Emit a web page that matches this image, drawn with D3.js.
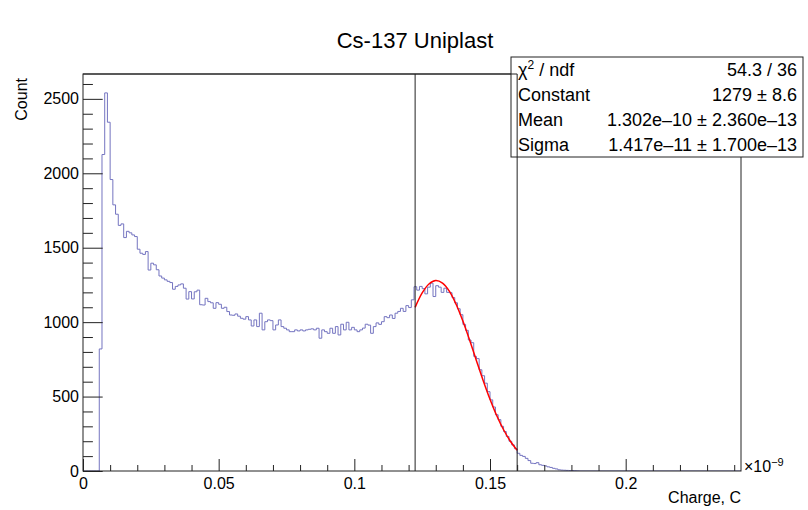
<!DOCTYPE html>
<html>
<head>
<meta charset="utf-8">
<script src="https://cdn.jsdelivr.net/npm/d3@7"></script>
<style>
    body { margin: 0; background: #fff; }
    svg text { font-family: "Liberation Sans", Arial, Helvetica, sans-serif; fill: #000; }
</style>
</head>
<body>
<div id="chart"></div>
<script>
// Histogram contents, bins of 0.001 (x1e-9 C) starting at 0
const binLow = 0.0;
const binWidth = 0.001;
const counts = [
    0, 0, 0, 0, 0, 0, 820, 2126, 2540, 2343,
    1958, 1788, 1725, 1650, 1660, 1568, 1610, 1600, 1586, 1575,
    1490, 1463, 1455, 1474, 1350, 1396, 1385, 1352, 1310, 1296,
    1284, 1274, 1266, 1221, 1240, 1250, 1257, 1228, 1155, 1205,
    1156, 1204, 1215, 1117, 1115, 1160, 1138, 1130, 1093, 1131,
    1120, 1093, 1100, 1071, 1048, 1046, 1055, 1040, 1026, 1020,
    1037, 1015, 974, 1015, 970, 1060, 948, 1003, 1015, 1010,
    948, 981, 1015, 970, 959, 948, 936, 936, 948, 941,
    948, 941, 948, 952, 955, 948, 959, 892, 948, 936,
    925, 959, 925, 970, 914, 986, 948, 999, 948, 965,
    948, 936, 948, 960, 986, 980, 925, 970, 995, 985,
    1003, 1037, 1030, 1048, 1025, 1060, 1072, 1093, 1072, 1111,
    1098, 1150, 1238, 1215, 1240, 1225, 1190, 1235, 1262, 1172,
    1245, 1235, 1200, 1228, 1200, 1198, 1165, 1130, 1090, 1050,
    985, 945, 880, 862, 770, 755, 680, 640, 590, 533,
    478, 430, 378, 345, 300, 265, 232, 200, 175, 150,
    119, 105, 98, 85, 70, 52, 50, 56, 42, 38,
    34, 28, 24, 18, 14, 8, 6, 5, 4, 3,
    3, 2, 1
];

// Fitted gaussian
const fitX = [0.1224, 0.125, 0.1275, 0.130, 0.1325, 0.135, 0.1375, 0.140,
              0.1425, 0.145, 0.1475, 0.150, 0.1525, 0.155, 0.1575, 0.160];
const fitY = [1099, 1196, 1256, 1279, 1262, 1208, 1120, 1007,
              878, 741, 607, 482, 371, 277, 200, 140];

// Vertical marker lines (fit range)
const cutLines = [0.1224, 0.160];

const xMajor = [0, 0.05, 0.1, 0.15, 0.2];
const xMinor = [0.01, 0.02, 0.03, 0.04, 0.06, 0.07, 0.08, 0.09, 0.11, 0.12, 0.13, 0.14,
                0.16, 0.17, 0.18, 0.19, 0.21, 0.22, 0.23, 0.24];
const yMajor = [0, 500, 1000, 1500, 2000, 2500];
const yMinor = [100, 200, 300, 400, 600, 700, 800, 900, 1100, 1200, 1300, 1400,
                1600, 1700, 1800, 1900, 2100, 2200, 2300, 2400, 2600];

const statNames = ["χ2 / ndf", "Constant", "Mean", "Sigma"];
const statValues = ["54.3 / 36", "1279 ± 8.6", "1.302e–10 ± 2.360e–13", "1.417e–11 ± 1.700e–13"];

class HistChart {
    constructor(parentElement) {
        this.parentElement = parentElement;
        this.initVis();
    }

    initVis() {
        let vis = this;

        vis.W = 808;
        vis.H = 510;
        vis.frame = {left: 83, right: 741, top: 74, bottom: 471};

        vis.svg = d3.select("#" + vis.parentElement).append("svg")
            .attr("width", vis.W)
            .attr("height", vis.H);

        vis.svg.append("rect")
            .attr("width", vis.W)
            .attr("height", vis.H)
            .attr("fill", "#fff");

        vis.x = d3.scaleLinear()
            .domain([0, 0.2425])
            .range([vis.frame.left, vis.frame.right]);

        vis.y = d3.scaleLinear()
            .domain([0, 2667])
            .range([vis.frame.bottom, vis.frame.top]);

        vis.updateVis();
    }

    updateVis() {
        let vis = this;
        let f = vis.frame;

        // Title
        vis.svg.append("text")
            .attr("x", 415)
            .attr("y", 48)
            .attr("text-anchor", "middle")
            .style("font-size", "22px")
            .text("Cs-137 Uniplast");

        // Clip to frame
        vis.svg.append("clipPath")
            .attr("id", "frame-clip")
            .append("rect")
            .attr("x", f.left)
            .attr("y", f.top)
            .attr("width", f.right - f.left)
            .attr("height", f.bottom - f.top);

        // Histogram as a step line
        let pts = [[0, 0]];
        counts.forEach((c, i) => pts.push([binLow + i * binWidth, c]));
        pts.push([binLow + counts.length * binWidth, 0]);
        pts.push([0.2425, 0]);

        let histLine = d3.line()
            .x(d => vis.x(d[0]))
            .y(d => vis.y(d[1]))
            .curve(d3.curveStepAfter);

        vis.svg.append("path")
            .datum(pts)
            .attr("clip-path", "url(#frame-clip)")
            .attr("fill", "none")
            .attr("stroke", "#7474c0")
            .attr("stroke-width", 1)
            .attr("d", histLine);

        // Fit curve
        let fitLine = d3.line()
            .x((d, i) => vis.x(fitX[i]))
            .y(d => vis.y(d))
            .curve(d3.curveCatmullRom);

        vis.svg.append("path")
            .datum(fitY)
            .attr("fill", "none")
            .attr("stroke", "#ff0000")
            .attr("stroke-width", 1.5)
            .attr("d", fitLine);

        // Axes
        let xAxisMajor = d3.axisBottom(vis.x)
            .tickValues(xMajor)
            .tickFormat(d3.format("~g"))
            .tickSize(-12)
            .tickPadding(7);
        let xAxisMinor = d3.axisBottom(vis.x)
            .tickValues(xMinor)
            .tickFormat("")
            .tickSize(-6);
        let yAxisMajor = d3.axisLeft(vis.y)
            .tickValues(yMajor)
            .tickFormat(d3.format("d"))
            .tickSize(-19.7)
            .tickPadding(4);
        let yAxisMinor = d3.axisLeft(vis.y)
            .tickValues(yMinor)
            .tickFormat("")
            .tickSize(-9.9);

        [xAxisMajor, xAxisMinor].forEach(ax => {
            vis.svg.append("g")
                .attr("class", "x axis")
                .attr("transform", `translate(0,${f.bottom})`)
                .call(ax)
                .call(g => g.select(".domain").remove())
                .selectAll("text")
                .style("font-size", "16px")
                .style("font-family", "'Liberation Sans', Arial, sans-serif");
        });
        [yAxisMajor, yAxisMinor].forEach(ax => {
            vis.svg.append("g")
                .attr("class", "y axis")
                .attr("transform", `translate(${f.left},0)`)
                .call(ax)
                .call(g => g.select(".domain").remove())
                .selectAll("text")
                .style("font-size", "16px")
                .style("font-family", "'Liberation Sans', Arial, sans-serif");
        });
        vis.svg.selectAll(".axis line").attr("stroke", "#222");

        // Frame
        vis.svg.append("rect")
            .attr("x", f.left)
            .attr("y", f.top)
            .attr("width", f.right - f.left)
            .attr("height", f.bottom - f.top)
            .attr("fill", "none")
            .attr("stroke", "#222")
            .attr("stroke-width", 1);

        // x10^-9 exponent
        let expo = vis.svg.append("text")
            .attr("x", 744)
            .attr("y", 472)
            .style("font-size", "16px");
        expo.append("tspan").text("×10");
        expo.append("tspan")
            .attr("dy", -6)
            .style("font-size", "11px")
            .text("−9");

        // Axis titles
        vis.svg.append("text")
            .attr("x", 741)
            .attr("y", 503)
            .attr("text-anchor", "end")
            .style("font-size", "16px")
            .text("Charge, C");

        vis.svg.append("text")
            .attr("transform", "translate(27,78) rotate(-90)")
            .attr("text-anchor", "end")
            .style("font-size", "16px")
            .text("Count");

        // Stats box
        let box = {x: 511, y: 57, w: 292, h: 100};
        vis.svg.append("rect")
            .attr("x", box.x)
            .attr("y", box.y)
            .attr("width", box.w)
            .attr("height", box.h)
            .attr("fill", "#fff")
            .attr("stroke", "#222")
            .attr("stroke-width", 1);

        let rowH = box.h / statNames.length;
        statNames.forEach((name, i) => {
            let t = vis.svg.append("text")
                .attr("x", box.x + 7)
                .attr("y", box.y + rowH * (i + 0.5) + 6)
                .style("font-size", "18px");
            if (i === 0) {
                t.append("tspan").text("χ");
                t.append("tspan").attr("dy", -7).style("font-size", "12px").text("2");
                t.append("tspan").attr("dy", 7).text(" / ndf");
            } else {
                t.text(name);
            }
            vis.svg.append("text")
                .attr("x", box.x + box.w - 6)
                .attr("y", box.y + rowH * (i + 0.5) + 6)
                .attr("text-anchor", "end")
                .style("font-size", "18px")
                .text(statValues[i]);
        });

        // Fit range markers (drawn over the stats box)
        vis.svg.append("line")
            .attr("x1", f.left).attr("x2", vis.x(cutLines[1]))
            .attr("y1", f.top).attr("y2", f.top)
            .attr("stroke", "#222");
        vis.svg.selectAll(".cut")
            .data(cutLines)
            .enter()
            .append("line")
            .attr("class", "cut")
            .attr("x1", d => vis.x(d))
            .attr("x2", d => vis.x(d))
            .attr("y1", f.top)
            .attr("y2", f.bottom)
            .attr("stroke", "#222")
            .attr("stroke-width", 1);
    }
}

new HistChart("chart");
</script>
</body>
</html>
